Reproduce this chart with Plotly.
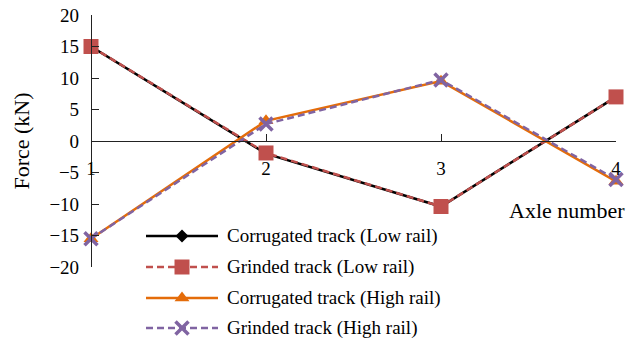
import plotly.graph_objects as go

# Axle positions and wheel–rail force per series (kN)
axles = [1, 2, 3, 4]
corrugated_low = [15, -2.0, -10.4, 7.0]
grinded_low = [15, -1.9, -10.4, 7.0]
corrugated_high = [-15.5, 3.2, 9.5, -6.4]
grinded_high = [-15.5, 2.7, 9.7, -6.1]

series_names = [
    "Corrugated track (Low rail)",
    "Grinded track (Low rail)",
    "Corrugated track (High rail)",
    "Grinded track (High rail)",
]
y_ticks = [20, 15, 10, 5, 0, -5, -10, -15, -20]

FONT = "Liberation Serif, Times New Roman, serif"
W, H = 630, 342
# plot-area edges in pixels
PL, PR, PT, PB = 91, 616, 15, 267

styles = [
    dict(line=dict(color="#000000", width=2.5),
         marker=dict(symbol="diamond", size=10, color="#000000")),
    dict(line=dict(color="#C0504D", width=2.5, dash="7px,4px"),
         marker=dict(symbol="square", size=15, color="#C0504D")),
    dict(line=dict(color="#E46C0A", width=2.5),
         marker=dict(symbol="triangle-up", size=13, color="#E46C0A")),
    dict(line=dict(color="#8064A2", width=2.5, dash="7px,4px"),
         marker=dict(symbol="x-thin", size=13, color="#8064A2",
                     line=dict(color="#8064A2", width=3.5))),
]

fig = go.Figure()
for name, vals, st in zip(series_names,
                          [corrugated_low, grinded_low, corrugated_high, grinded_high],
                          styles):
    fig.add_trace(go.Scatter(x=axles, y=vals, mode="lines+markers", name=name,
                             showlegend=False, cliponaxis=False, **st))

# Legend keys drawn on a full-page helper axis measured in pixels
leg_rows = [236, 267, 298, 328]
for name, yrow, st in zip(series_names, leg_rows, styles):
    fig.add_trace(go.Scatter(x=[146, 218], y=[yrow, yrow], mode="lines",
                             line=st["line"], xaxis="x2", yaxis="y2",
                             showlegend=False, hoverinfo="skip", cliponaxis=False))
    fig.add_trace(go.Scatter(x=[182], y=[yrow], mode="markers",
                             marker=st["marker"], xaxis="x2", yaxis="y2",
                             showlegend=False, hoverinfo="skip", cliponaxis=False))
    fig.add_annotation(x=225, y=yrow, xref="x2", yref="y2", text=name,
                       showarrow=False, xanchor="left", yanchor="middle",
                       font=dict(family=FONT, size=19, color="#000000"))

fig.update_layout(
    width=W, height=H,
    margin=dict(l=0, r=0, t=0, b=0, pad=0),
    paper_bgcolor="white", plot_bgcolor="rgba(0,0,0,0)",
    font=dict(family=FONT, size=19, color="#000000"),
    xaxis=dict(
        domain=[PL / W, PR / W],
        range=[1, 4], tickvals=axles, ticktext=[str(a) for a in axles],
        showgrid=False, zeroline=False, showline=True, linecolor="#222222",
        linewidth=1.2, ticks="inside", ticklen=7, tickcolor="#222222",
        anchor="free", position=(H - (PT + PB) / 2) / H, ticklabelstandoff=10,
        tickfont=dict(family=FONT, size=19), automargin=False,
    ),
    yaxis=dict(
        domain=[(H - PB) / H, (H - PT) / H],
        range=[-20, 20], tickvals=y_ticks,
        showgrid=False, zeroline=False, showline=True, linecolor="#222222",
        linewidth=1.2, ticks="inside", ticklen=7, tickcolor="#222222",
        anchor="free", position=PL / W,
        tickfont=dict(family=FONT, size=19), ticklabelstandoff=8, automargin=False,
        title=dict(text="Force (kN)", font=dict(family=FONT, size=22), standoff=12),
    ),
    xaxis2=dict(range=[0, W], domain=[0, 1], visible=False,
                anchor="y2", fixedrange=True),
    yaxis2=dict(range=[H, 0], domain=[0, 1], visible=False,
                anchor="x2", fixedrange=True),
)

fig.add_annotation(x=567, y=210, xref="x2", yref="y2", text="Axle number",
                   showarrow=False, xanchor="center", yanchor="middle",
                   font=dict(family=FONT, size=22, color="#000000"))

fig.write_html("out.html")
